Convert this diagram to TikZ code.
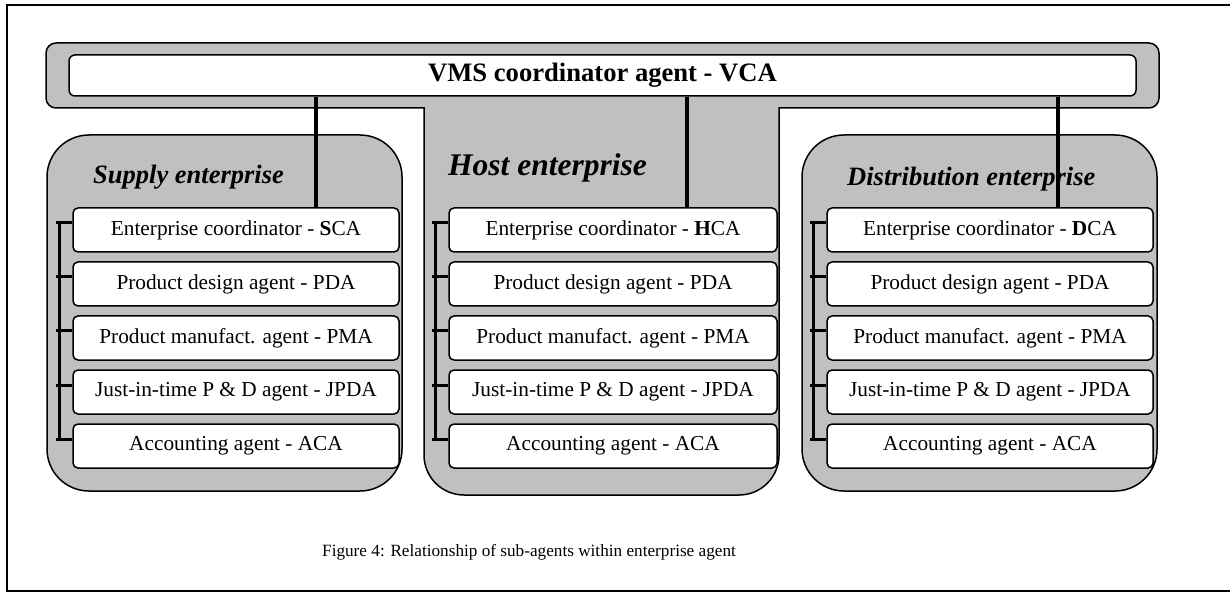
\documentclass[tikz,border=0pt]{standalone}
\usepackage{fontspec}
\setmainfont{Liberation Serif}
\definecolor{panelgray}{RGB}{192,192,192}
\begin{document}
\begin{tikzpicture}[x=1pt,y=1pt,
  panel/.style={draw=black, line width=1.5pt, fill=panelgray},
  agentbox/.style={draw=black, line width=1.5pt, fill=white, rounded corners=5pt,
    minimum width=326pt, minimum height=44pt, inner sep=0pt,
    font=\fontsize{21.3}{25}\selectfont},
  vcabox/.style={draw=black, line width=1.5pt, fill=white, rounded corners=6pt,
    minimum width=1067pt, minimum height=41pt, inner sep=0pt,
    font=\fontsize{26.6}{30}\selectfont\bfseries},
  title/.style={anchor=base west, inner sep=0pt, font=\bfseries\itshape},
  link/.style={line width=3.5pt},
  tick/.style={line width=3pt},
]
\useasboundingbox (0,0) rectangle (1230,592);

% page frame (open on the right)
\draw[line width=2pt] (1240,587) -- (7,587) -- (7,1) -- (1240,1);

% coordinator bar joined to the host enterprise column
\draw[panel] (46,494) -- (46,539) arc[start angle=180,end angle=90,radius=10]
  -- (1149,549) arc[start angle=90,end angle=0,radius=10]
  -- (1159,494) arc[start angle=0,end angle=-90,radius=10]
  -- (779,484) -- (779,137) arc[start angle=0,end angle=-90,radius=40]
  -- (464,97) arc[start angle=270,end angle=180,radius=40]
  -- (424,484) -- (56,484) arc[start angle=270,end angle=180,radius=10] -- cycle;

\node[vcabox] (vca) at (602.5,516.5) {VMS coordinator agent - VCA};

% supply and distribution enterprise panels
\draw[panel, rounded corners=42pt] (47,101) rectangle (402,457);
\draw[panel, rounded corners=42pt] (802,101) rectangle (1157,457);

\node[title, font=\fontsize{26.5}{30}\selectfont\bfseries\itshape] (lsup) at (93,408) {Supply enterprise};
\node[title, font=\fontsize{31.5}{36}\selectfont\bfseries\itshape] (lhost) at (448,416) {Host enterprise};
\node[title, font=\fontsize{26.5}{30}\selectfont\bfseries\itshape] (ldist) at (847,406) {Distribution enterprise};

% sub-agent boxes of each enterprise
\foreach \c/\x/\w/\k in {s/236/326/S, h/613/328/H, d/990/326/D} {
  \node[agentbox, minimum width=\w pt] (\c1) at (\x,362) {Enterprise coordinator - \textbf{\k}CA};
  \node[agentbox, minimum width=\w pt] (\c2) at (\x,308) {Product design agent - PDA};
  \node[agentbox, minimum width=\w pt] (\c3) at (\x,254) {Product manufact. agent - PMA};
  \node[agentbox, minimum width=\w pt] (\c4) at (\x,200) {Just-in-time P \& D agent - JPDA};
  \node[agentbox, minimum width=\w pt] (\c5) at (\x,146) {Accounting agent - ACA};
}

% links from the coordinator to each enterprise coordinator
\coordinate (ts) at (316,0);
\coordinate (th) at (687,0);
\coordinate (td) at (1058,0);
\draw[link] (vca.south -| ts) -- (s1.north -| ts);
\draw[link] (vca.south -| th) -- (h1.north -| th);
\draw[link] (vca.south -| td) -- (d1.north -| td);

% brackets tying the sub-agents together
\foreach \c in {s,h,d} {
  \draw[tick] ([xshift=-13pt,yshift=7pt]\c1.west) -- ([xshift=-13pt,yshift=7pt]\c5.west);
  \foreach \i in {1,...,5}
    \draw[tick] ([xshift=-16pt,yshift=7pt]\c\i.west) -- ([yshift=7pt]\c\i.west);
}

\node[anchor=base west, inner sep=0pt, font=\fontsize{17.2}{21}\selectfont] (cap) at (322,36)
  {Figure 4: Relationship of sub-agents within enterprise agent};
\end{tikzpicture}
\end{document}
